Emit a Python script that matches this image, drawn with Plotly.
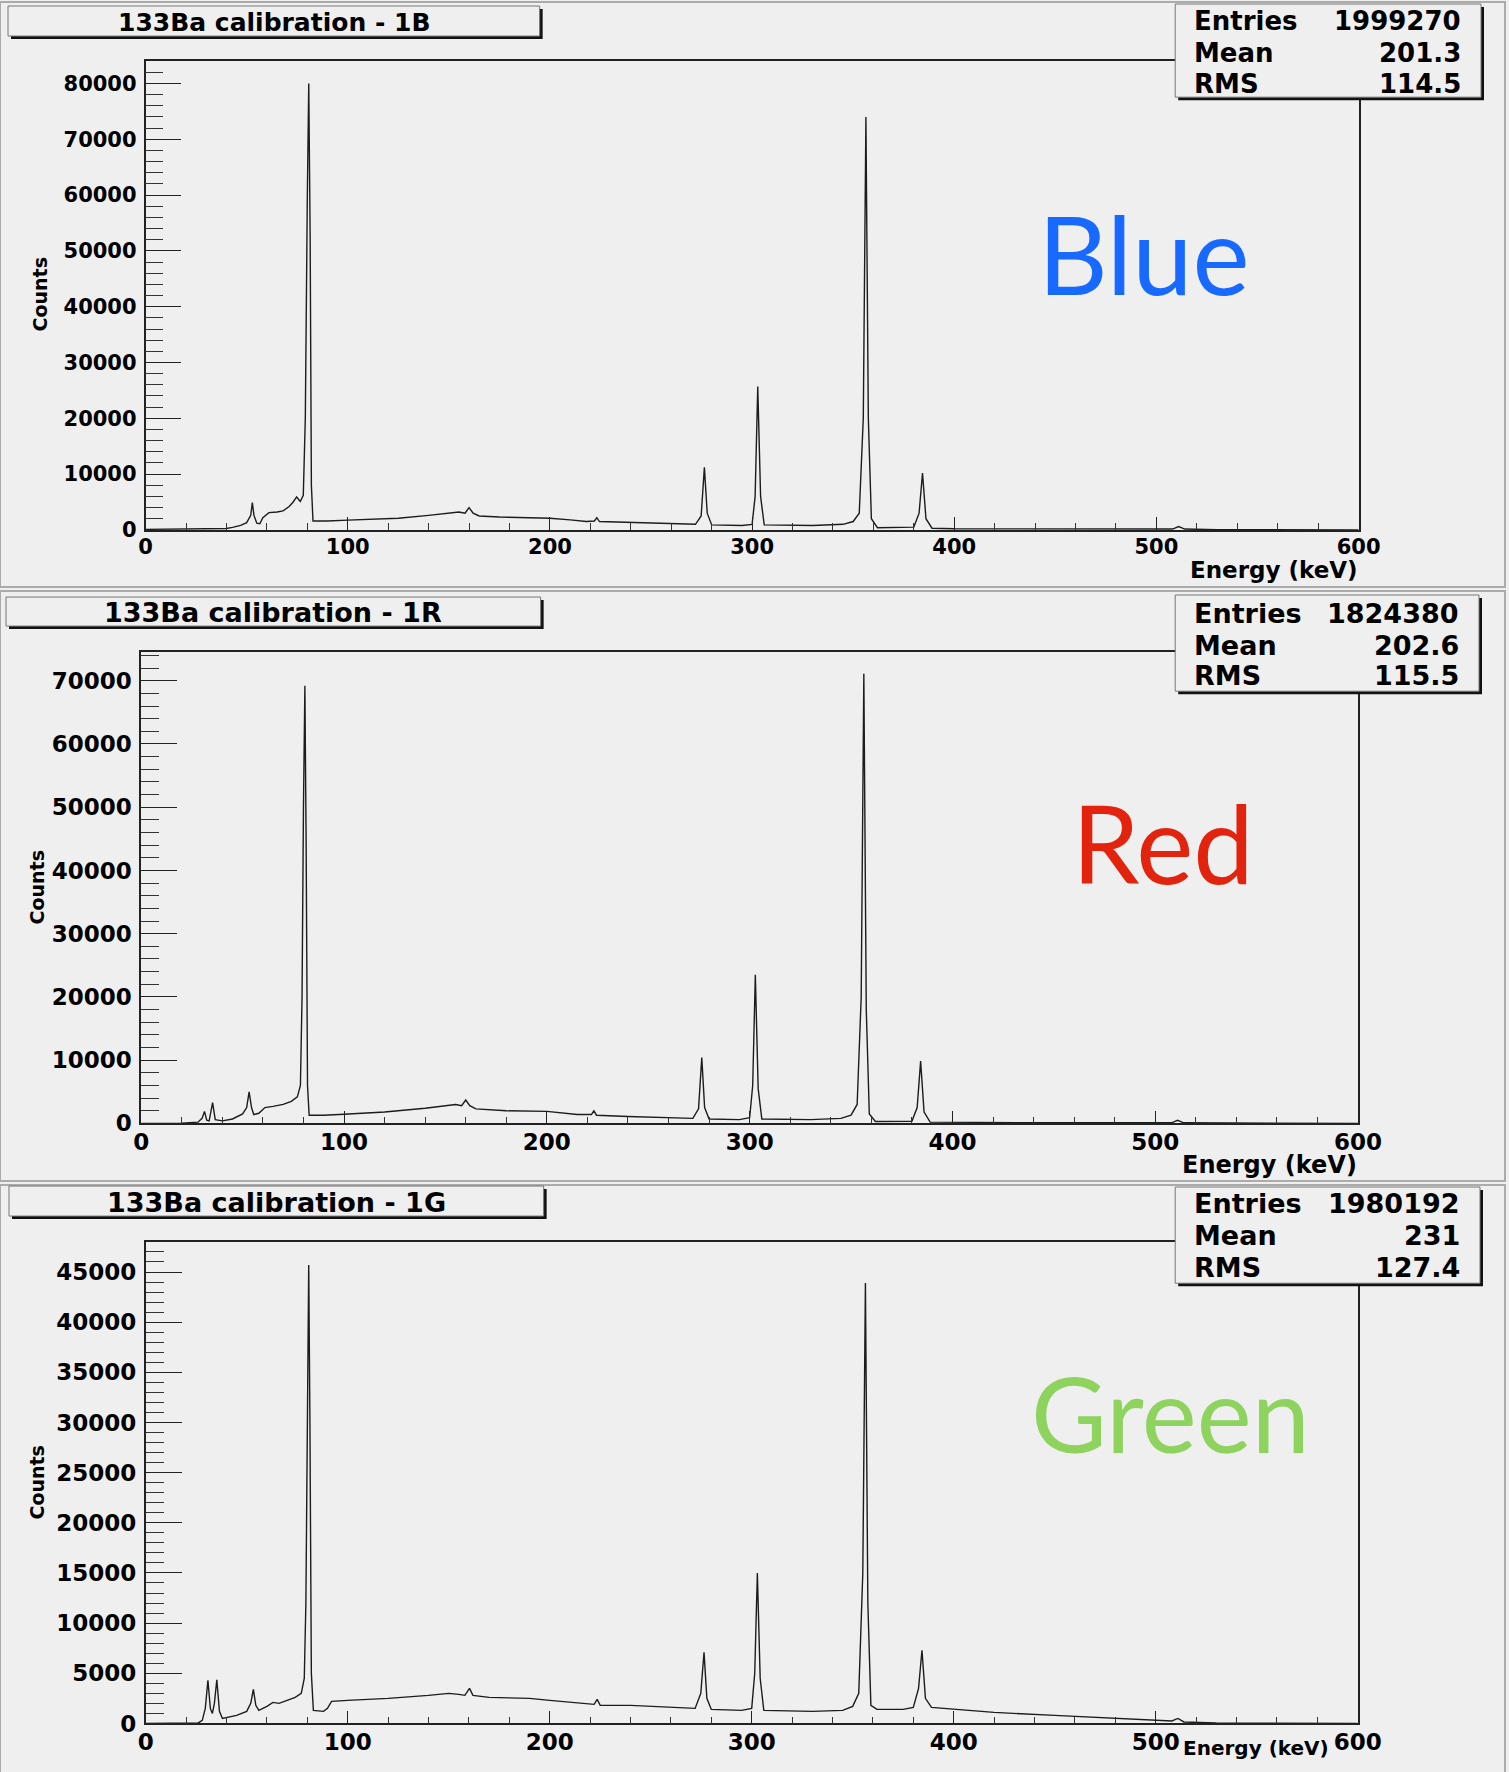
import plotly.graph_objects as go

W, H = 1509, 1772

# ---------------------------------------------------------------------------
# Spectrum data: energy (keV) and counts per point, one set per channel
# ---------------------------------------------------------------------------
blue_energy = [0, 10, 20, 30, 40, 43, 47, 50, 52, 52.8, 53.6, 55, 56.5, 58, 61, 65, 68, 71,
               73, 74.7, 76.5, 78, 79, 80, 80.7, 81.4, 82, 82.8, 90, 100, 110, 125, 140,
               150, 155, 158, 160, 162, 165, 175, 190, 200, 210, 218, 222, 223.2, 224.5,
               240, 260, 272, 274.8, 276.4, 277.8, 280, 295, 300, 301.5, 302.8, 304.2,
               306, 330, 345, 350, 353, 355, 356.3, 357.5, 359, 362, 375, 380, 382.6,
               384.3, 386, 389, 400, 450, 500, 508, 511, 514, 530, 600]
blue_counts = [100, 150, 200, 200, 250, 450, 800, 1300, 2600, 4900, 2600, 1200, 1100, 2200,
               3100, 3200, 3400, 4200, 5000, 5900, 5100, 6200, 20000, 60000, 80000, 52000,
               8000, 1600, 1600, 1750, 1850, 2100, 2600, 3000, 3200, 3000, 4000, 3000, 2500,
               2300, 2100, 2100, 1800, 1500, 1600, 2200, 1500, 1300, 1100, 1000, 2500,
               11200, 3000, 900, 800, 1000, 6000, 25700, 6000, 900, 800, 1000, 1500, 3000,
               20000, 74000, 20000, 2000, 400, 400, 500, 3000, 10200, 2000, 300, 200, 150,
               100, 150, 600, 150, 50, 0]

red_energy = [0, 20, 28, 30, 31.2, 32.3, 33.5, 35.2, 36.5, 40, 45, 50, 52, 53.2, 54.4, 55.5,
              58, 61, 65, 70, 74, 77, 78.5, 79.3, 80, 80.7, 81.3, 82, 82.8, 90, 100, 120,
              140, 150, 155, 158, 160, 162, 165, 180, 200, 215, 222, 223.2, 224.5, 240,
              260, 272, 274.8, 276.4, 277.8, 280, 295, 300, 301.5, 302.8, 304.2, 306, 330,
              345, 350, 353, 355, 356.3, 357.5, 359, 362, 380, 382.6, 384.3, 386, 389,
              450, 508, 511, 514, 600]
red_counts = [0, 50, 200, 800, 1900, 500, 400, 3300, 600, 400, 700, 1500, 2500, 5000, 2500,
              1400, 1600, 2500, 2700, 3000, 3500, 4200, 6000, 20000, 50000, 69200, 45000,
              6000, 1300, 1300, 1450, 1800, 2400, 2800, 3000, 2800, 3700, 2800, 2300, 2000,
              1900, 1400, 1400, 2000, 1300, 1100, 900, 800, 2300, 10400, 2500, 700, 600,
              900, 6000, 23500, 5500, 700, 600, 800, 1300, 3000, 20000, 71100, 18000, 1500,
              300, 350, 2500, 9850, 1800, 200, 100, 100, 500, 100, 0]

green_energy = [0, 20, 26, 28, 29.5, 30.8, 32, 33, 34, 35.2, 36.5, 38, 45, 50, 52, 53.3, 54.5,
                56, 60, 63, 66, 70, 74, 77, 78.5, 79.3, 80, 80.7, 81.3, 82, 83, 88, 90, 92,
                100, 120, 140, 150, 155, 158, 160.3, 162, 170, 190, 200, 215, 222, 223.5,
                225, 240, 260, 272, 274.8, 276.4, 277.8, 280, 295, 300, 301.5, 302.8, 304.2,
                306, 330, 345, 350, 353, 355, 356.3, 357.5, 359, 362, 375, 380, 382.6, 384.3,
                386, 389, 400, 420, 450, 480, 500, 508, 511, 514, 530, 600]
green_counts = [0, 0, 50, 300, 1500, 4300, 1500, 1000, 2000, 4350, 1200, 500, 800, 1200,
                2000, 3400, 1800, 1300, 1700, 2100, 2000, 2300, 2600, 3000, 4500, 12000,
                30000, 45700, 30000, 5000, 1300, 1200, 1500, 2200, 2300, 2500, 2800, 3000,
                2900, 2800, 3500, 2800, 2600, 2500, 2300, 2000, 1900, 2400, 1800, 1800, 1600,
                1500, 3000, 7100, 2500, 1400, 1300, 1500, 5000, 15000, 4500, 1300, 1200,
                1300, 1700, 3000, 15000, 43900, 12000, 1800, 1400, 1400, 1600, 3500, 7300,
                2500, 1600, 1400, 1100, 800, 500, 300, 250, 500, 150, 50, 0]

titles = ["133Ba calibration - 1B", "133Ba calibration - 1R", "133Ba calibration - 1G"]
stats = [("1999270", "201.3", "114.5"), ("1824380", "202.6", "115.5"), ("1980192", "231", "127.4")]
labels = ["Blue", "Red", "Green"]
label_colors = ["#1769FF", "#E2230E", "#8ED35E"]
y_max = [84060, 74600, 47980]
y_major = [10000, 10000, 5000]
y_minor = [2000, 2000, 1000]

series = [(blue_energy, blue_counts), (red_energy, red_counts), (green_energy, green_counts)]

# ---------------------------------------------------------------------------
# Pixel layout of each pad (page pixels)
# ---------------------------------------------------------------------------
pads = [
    dict(bg=(0, 3, 1506, 587), frame=(145.7, 61.7, 1359.5, 530),
         title_box=(8, 7, 540, 37), stats_box=(1176, 5, 1482, 98),
         stat_rows=(22, 54, 85), counts=(40, 295), energy_xy=(1360.5, 570),
         label_xy=(1144, 254), label_size=108,
         tick_size=21, title_size=25, stat_size=26, axis_title_size=23),
    dict(bg=(0, 591, 1506, 1180), frame=(141.3, 651.5, 1359, 1122.5),
         title_box=(6, 597, 541, 626), stats_box=(1176, 595, 1480, 691),
         stat_rows=(613, 645, 675), counts=(37, 887), energy_xy=(1360, 1164),
         label_xy=(1164, 842), label_size=108,
         tick_size=23, title_size=27, stat_size=27, axis_title_size=24),
    dict(bg=(0, 1184, 1506, 1772), frame=(145.8, 1241, 1358.6, 1721.5),
         title_box=(9, 1185, 544, 1215), stats_box=(1176, 1186, 1481, 1282),
         stat_rows=(1202, 1234, 1266), counts=(37, 1481), energy_xy=(1332, 1746),
         label_xy=(1171, 1411), label_size=104,
         tick_size=23, title_size=27, stat_size=27, axis_title_size=20),
]

# area the figure actually occupies on the page (offset and drawn size)
OFF_X, OFF_Y = 8.0, 1.0
DRAW_W, DRAW_H = 1478.0, 1756.0


def px(x):
    return (x - OFF_X) / DRAW_W


def py(y):
    return 1 - (y - OFF_Y) / DRAW_H


BG = "#EFEFEF"
BOLD = "DejaVu Sans"

fig = go.Figure()
shapes = []
annotations = []
layout_axes = {}

for i, (pad, (energy, counts)) in enumerate(zip(pads, series)):
    n = "" if i == 0 else str(i + 1)
    xa, ya = "x" + n, "y" + n

    fig.add_trace(go.Scatter(
        x=energy, y=counts, mode="lines", xaxis=xa, yaxis=ya,
        line=dict(color="#1c1c1c", width=1.4), showlegend=False, hoverinfo="skip"))

    fx0, fy0, fx1, fy1 = pad["frame"]
    tf = dict(family=BOLD, size=pad["tick_size"], color="black", weight="bold")

    layout_axes["xaxis" + n] = dict(
        domain=[px(fx0), px(fx1)], anchor=ya, range=[0, 600],
        showline=True, linecolor="#222", linewidth=1.6, mirror=True,
        ticks="inside", ticklen=13, tickcolor="#222", tickwidth=1,
        tickvals=[0, 100, 200, 300, 400, 500, 600], tickfont=tf,
        ticklabelstandoff=-3,
        minor=dict(ticks="inside", ticklen=7, dtick=20, tickcolor="#333", showgrid=False),
        showgrid=False, zeroline=False, fixedrange=True)

    yticks = list(range(0, int(y_max[i]) + 1, y_major[i]))
    layout_axes["yaxis" + n] = dict(
        domain=[py(fy1), py(fy0)], anchor=xa, range=[0, y_max[i]],
        showline=True, linecolor="#222", linewidth=1.6, mirror=True,
        ticks="inside", ticklen=36, tickcolor="#222", tickwidth=1,
        tickvals=yticks, ticktext=[str(v) for v in yticks], tickfont=tf,
        ticklabelstandoff=3,
        minor=dict(ticks="inside", ticklen=18, dtick=y_minor[i], tickcolor="#333",
                   showgrid=False),
        showgrid=False, zeroline=False, fixedrange=True)

    # pad background
    bx0, by0, bx1, by1 = pad["bg"]
    shapes.append(dict(type="rect", xref="paper", yref="paper", layer="below",
                       x0=px(bx0), x1=px(bx1), y0=py(by1), y1=py(by0),
                       fillcolor=BG, line=dict(color="#ABABAB", width=2)))

    # title pave with shadow
    tx0, ty0, tx1, ty1 = pad["title_box"]
    shapes.append(dict(type="rect", xref="paper", yref="paper", layer="above",
                       x0=px(tx0 + 3), x1=px(tx1 + 3), y0=py(ty1 + 3), y1=py(ty0 + 3),
                       fillcolor="#111", line=dict(width=0)))
    shapes.append(dict(type="rect", xref="paper", yref="paper", layer="above",
                       x0=px(tx0), x1=px(tx1), y0=py(ty1), y1=py(ty0),
                       fillcolor=BG, line=dict(color="#777", width=1)))
    annotations.append(dict(
        text=titles[i], xref="paper", yref="paper", showarrow=False,
        x=px((tx0 + tx1) / 2), y=py((ty0 + ty1) / 2 + 1), xanchor="center", yanchor="middle",
        font=dict(family=BOLD, size=pad["title_size"], color="black", weight="bold")))

    # statistics box with shadow
    sx0, sy0, sx1, sy1 = pad["stats_box"]
    shapes.append(dict(type="rect", xref="paper", yref="paper", layer="above",
                       x0=px(sx0 + 3), x1=px(sx1 + 3), y0=py(sy1 + 3), y1=py(sy0 + 3),
                       fillcolor="#111", line=dict(width=0)))
    shapes.append(dict(type="rect", xref="paper", yref="paper", layer="above",
                       x0=px(sx0), x1=px(sx1), y0=py(sy1), y1=py(sy0),
                       fillcolor=BG, line=dict(color="#777", width=1)))
    sf = dict(family=BOLD, size=pad["stat_size"], color="black", weight="bold")
    for name, value, row_y in zip(("Entries", "Mean", "RMS"), stats[i], pad["stat_rows"]):
        annotations.append(dict(text=name, xref="paper", yref="paper", showarrow=False,
                                x=px(sx0 + 17), y=py(row_y), xanchor="left",
                                yanchor="middle", font=sf))
        annotations.append(dict(text=value, xref="paper", yref="paper", showarrow=False,
                                x=px(sx1 - 18), y=py(row_y), xanchor="right",
                                yanchor="middle", font=sf))

    # axis titles
    af = dict(family=BOLD, size=pad["axis_title_size"], color="black", weight="bold")
    ex, ey = pad["energy_xy"]
    annotations.append(dict(text="Energy (keV)", xref="paper", yref="paper", showarrow=False,
                            x=px(ex), y=py(ey), xanchor="right", yanchor="middle",
                            font=af))
    cx, cy = pad["counts"]
    annotations.append(dict(text="Counts", xref="paper", yref="paper", showarrow=False,
                            x=px(cx), y=py(cy), xanchor="center", yanchor="middle",
                            textangle=-90,
                            font=dict(family=BOLD, size=19, color="black", weight="bold")))

    # channel label
    lx, ly = pad["label_xy"]
    annotations.append(dict(text=labels[i], xref="paper", yref="paper", showarrow=False,
                            x=px(lx), y=py(ly), xanchor="center", yanchor="middle",
                            font=dict(family="Lato", size=pad["label_size"],
                                      color=label_colors[i])))

fig.update_layout(
    width=W, height=H, margin=dict(l=0, r=0, t=0, b=0),
    paper_bgcolor=BG, plot_bgcolor=BG,
    shapes=shapes, annotations=annotations, showlegend=False,
    **layout_axes)

fig.write_html("out.html", config={"displayModeBar": False})
